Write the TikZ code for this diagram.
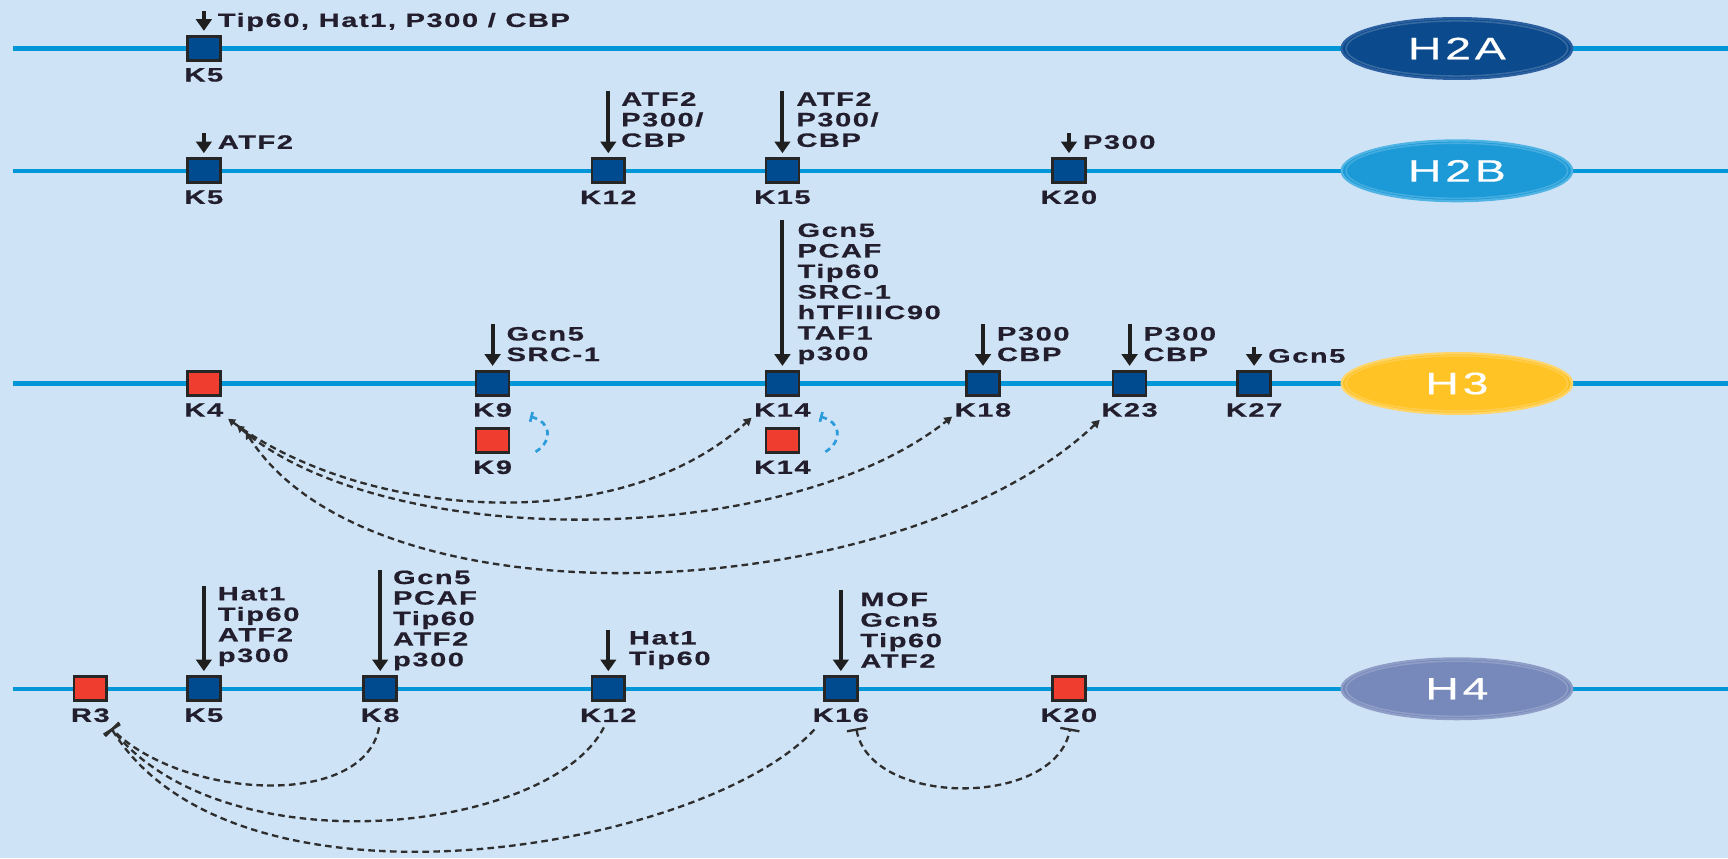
\documentclass[tikz,border=0pt]{standalone}
\usepackage{fontspec}
\setmainfont{Liberation Sans}
\newfontfamily\lab{Liberation Sans}[UprightFont={* Bold},FakeStretch=1.5,LetterSpace=8,FakeBold=0.6]
\newfontfamily\hfont{Liberation Sans}[FakeStretch=1.5,LetterSpace=12,FakeBold=0.5]
\usetikzlibrary{arrows.meta,shapes.geometric}
\definecolor{bgcol}{HTML}{CFE3F6}
\definecolor{axiscol}{HTML}{0096D8}
\definecolor{sqblue}{HTML}{004A8F}
\definecolor{sqred}{HTML}{EF3E2F}
\definecolor{sqborder}{HTML}{262626}
\definecolor{txt}{HTML}{221E2E}
\definecolor{dashcol}{HTML}{2E2E2E}
\definecolor{bluedash}{HTML}{2D9CDB}
\definecolor{hAfill}{HTML}{0B4A8C}
\definecolor{hAdraw}{HTML}{2B5FA0}
\definecolor{hBfill}{HTML}{1B9AD7}
\definecolor{hBdraw}{HTML}{4FB3E3}
\definecolor{hCfill}{HTML}{FFC325}
\definecolor{hCdraw}{HTML}{FFD56A}
\definecolor{hDfill}{HTML}{7689BA}
\definecolor{hDdraw}{HTML}{8E9DC6}
\tikzset{
  sq/.style={rectangle, minimum width=8.5pt, minimum height=6.2pt, inner sep=0pt, draw=sqborder, line width=0.7pt},
  bluesq/.style={sq, fill=sqblue},
  redsq/.style={sq, fill=sqred},
  klab/.style={font=\lab\fontsize{5pt}{5.3pt}\selectfont, text=txt, inner sep=0pt},
  enz/.style={klab, anchor=north west, align=left},
  acet/.style={draw=black!88, line width=1.05pt, -{Triangle[length=3pt,width=4pt]}, shorten >=1.1pt},
  stim/.style={draw=dashcol, line width=0.6pt, dash pattern=on 1.7pt off 1.1pt,
    {Triangle[length=1.8pt,width=2pt]}-{Triangle[length=2pt,width=2.2pt]}},
  inhib/.style={draw=dashcol, line width=0.6pt, dash pattern=on 1.7pt off 1.1pt},
  bluei/.style={draw=bluedash, line width=0.7pt, dash pattern=on 1.5pt off 1.2pt, -{Bar[width=2.6pt]}},
  axis/.style={draw=axiscol, line width=1.15pt},
  hist/.style={ellipse, minimum width=2.09cm, minimum height=0.55cm, inner sep=0pt, text=white,
    font=\hfont\fontsize{8pt}{9pt}\selectfont, line width=0.6pt,
    path picture={\draw[white, opacity=0.18, line width=0.4pt] (path picture bounding box.center) ellipse [x radius=1.005cm, y radius=0.25cm];}}
}
\newcommand\site[5]{\node[#4] (#1) at (#2,#3) {}; \node[klab] (#1l) at (#2,#3+24) {#5};}
\begin{document}
\begin{tikzpicture}[x=0.01cm,y=-0.01cm]
\useasboundingbox (0,0) rectangle (1568,779);
\fill[bgcol] (0,0) rectangle (1568,779);
% axis lines
\draw[axis] (12,44) -- (1568,44);
\draw[axis] (12,155) -- (1568,155);
\draw[axis] (12,348) -- (1568,348);
\draw[axis] (12,625) -- (1568,625);
% histone ellipses
\node[hist, fill=hAfill, draw=hAdraw] (h2a) at (1322,44) {H2A};
\node[hist, fill=hBfill, draw=hBdraw] (h2b) at (1322,155) {H2B};
\node[hist, fill=hCfill, draw=hCdraw] (h3) at (1322,348) {H3};
\node[hist, fill=hDfill, draw=hDdraw] (h4) at (1322,625) {H4};
% ---------------- H2A
\site{aK5}{185}{44}{bluesq}{K5}
\coordinate (aK5t) at (185,10);
\draw[acet] (aK5t) -- (aK5);
\node[enz] (aK5e) at (197,11) {Tip60, Hat1, P300 / CBP};
% ---------------- H2B
\site{bK5}{185}{155}{bluesq}{K5}
\coordinate (bK5t) at (185,121);
\draw[acet] (bK5t) -- (bK5);
\node[enz] (bK5e) at (197,122) {ATF2};
\site{bK12}{552}{155}{bluesq}{K12}
\coordinate (bK12t) at (552,83);
\draw[acet] (bK12t) -- (bK12);
\node[enz] (bK12e) at (563,83) {ATF2\\P300/\\CBP};
\site{bK15}{710}{155}{bluesq}{K15}
\coordinate (bK15t) at (710,83);
\draw[acet] (bK15t) -- (bK15);
\node[enz] (bK15e) at (722,83) {ATF2\\P300/\\CBP};
\site{bK20}{970}{155}{bluesq}{K20}
\coordinate (bK20t) at (970,121);
\draw[acet] (bK20t) -- (bK20);
\node[enz] (bK20e) at (982,122) {P300};
% ---------------- H3
\site{cK4}{185}{348}{redsq}{K4}
\site{cK9}{447}{348}{bluesq}{K9}
\coordinate (cK9t) at (447,294);
\draw[acet] (cK9t) -- (cK9);
\node[enz] (cK9e) at (459,296) {Gcn5\\SRC-1};
\site{cK14}{710}{348}{bluesq}{K14}
\coordinate (cK14t) at (710,200);
\draw[acet] (cK14t) -- (cK14);
\node[enz] (cK14e) at (723,202) {Gcn5\\PCAF\\Tip60\\SRC-1\\hTFIIIC90\\TAF1\\p300};
\site{cK18}{892}{348}{bluesq}{K18}
\coordinate (cK18t) at (892,294);
\draw[acet] (cK18t) -- (cK18);
\node[enz] (cK18e) at (904,296) {P300\\CBP};
\site{cK23}{1025}{348}{bluesq}{K23}
\coordinate (cK23t) at (1025,294);
\draw[acet] (cK23t) -- (cK23);
\node[enz] (cK23e) at (1037,296) {P300\\CBP};
\site{cK27}{1138}{348}{bluesq}{K27}
\coordinate (cK27t) at (1138,315);
\draw[acet] (cK27t) -- (cK27);
\node[enz] (cK27e) at (1150,316) {Gcn5};
\site{cK9m}{447}{400}{redsq}{K9}
\site{cK14m}{710}{400}{redsq}{K14}
% blue inhibition arcs
\coordinate (b9s) at (486,410); \coordinate (b9e) at (481,378);
\draw[bluei] (b9s) .. controls (502,400) and (500,383) .. (b9e);
\coordinate (b14s) at (749,410); \coordinate (b14e) at (744,378);
\draw[bluei] (b14s) .. controls (765,400) and (763,383) .. (b14e);
% K4 crosstalk curves
\coordinate (s4a) at (207,380); \coordinate (e14) at (682,379);
\coordinate (s4b) at (215,386); \coordinate (e18) at (864,378);
\coordinate (s4c) at (223,392); \coordinate (e23) at (998,381);
\draw[stim] (s4a) .. controls (330,470) and (560,490) .. (e14);
\draw[stim] (s4b) .. controls (350,500) and (710,500) .. (e18);
\draw[stim] (s4c) .. controls (340,575) and (820,550) .. (e23);
% ---------------- H4
\site{dR3}{82}{625}{redsq}{R3}
\site{dK5}{185}{625}{bluesq}{K5}
\coordinate (dK5t) at (185,532);
\draw[acet] (dK5t) -- (dK5);
\node[enz] (dK5e) at (197,532) {Hat1\\Tip60\\ATF2\\p300};
\site{dK8}{345}{625}{bluesq}{K8}
\coordinate (dK8t) at (345,517);
\draw[acet] (dK8t) -- (dK8);
\node[enz] (dK8e) at (356,517) {Gcn5\\PCAF\\Tip60\\ATF2\\p300};
\site{dK12}{552}{625}{bluesq}{K12}
\coordinate (dK12t) at (552,572);
\draw[acet] (dK12t) -- (dK12);
\node[enz] (dK12e) at (570,572) {Hat1\\Tip60};
\site{dK16}{763}{625}{bluesq}{K16}
\coordinate (dK16t) at (763,535);
\draw[acet] (dK16t) -- (dK16);
\node[enz] (dK16e) at (780,537) {MOF\\Gcn5\\Tip60\\ATF2};
\site{dK20}{970}{625}{redsq}{K20}
% R3 / K16 inhibition curves
\coordinate (r3end) at (101,661);
\coordinate (s8) at (344,660); \coordinate (s12) at (548,660); \coordinate (s16) at (739,662);
\coordinate (s16b) at (777,661); \coordinate (s20) at (971,661);
\draw[inhib,-{Bar[width=5pt]}] (s8) .. controls (330,735) and (165,725) .. (r3end);
\draw[inhib,-{Bar[width=5pt]}] (s12) .. controls (500,755) and (205,790) .. (r3end);
\draw[inhib,-{Bar[width=5pt]}] (s16) .. controls (640,770) and (215,845) .. (r3end);
\draw[inhib,{Bar[width=5pt]}-{Bar[width=5pt]}] (s16b) .. controls (790,733) and (958,733) .. (s20);
\end{tikzpicture}
\end{document}
